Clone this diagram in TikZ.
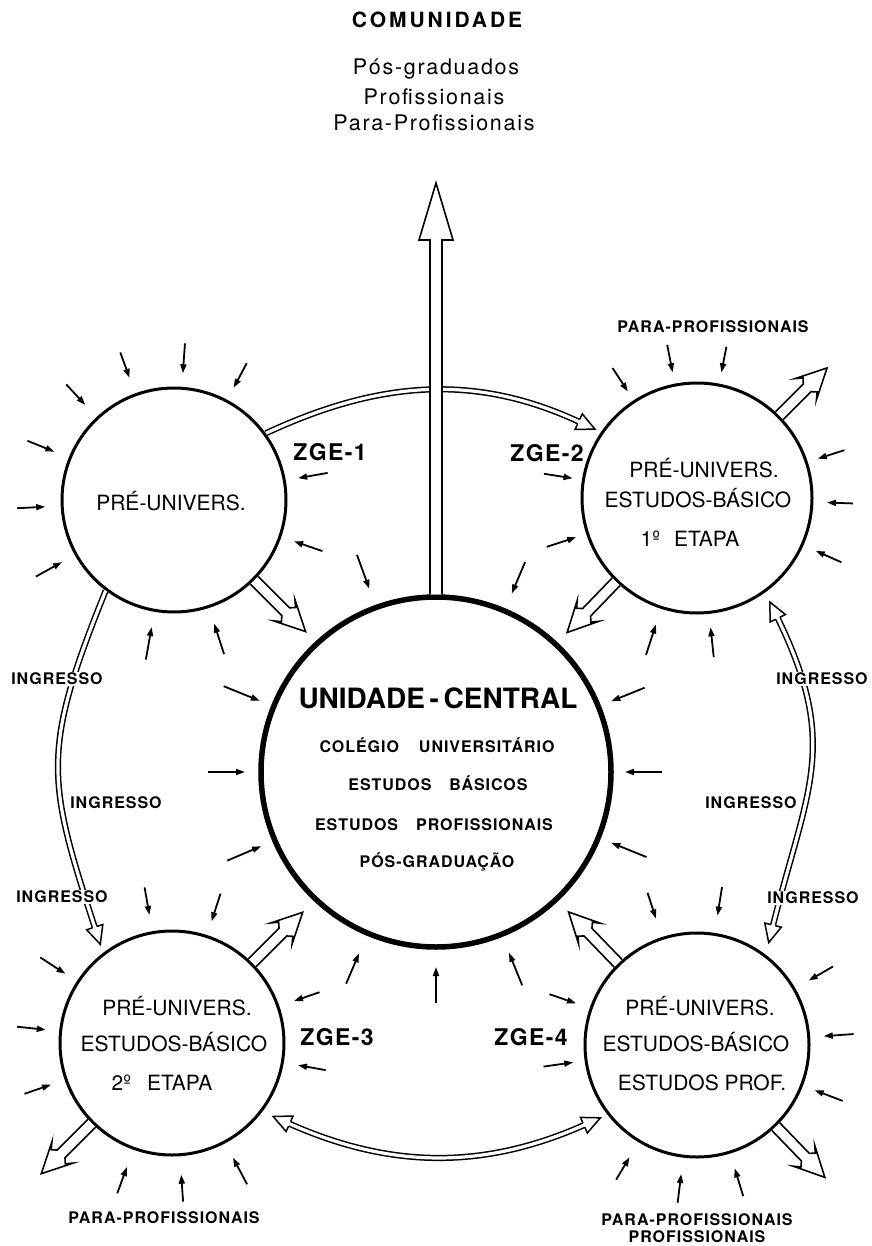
\documentclass[tikz,border=0pt]{standalone}
\usepackage{fontspec}
\setmainfont{TeX Gyre Heros}
\newfontfamily\wideletters[LetterSpace=14]{TeX Gyre Heros}
\newfontfamily\openletters[LetterSpace=8]{TeX Gyre Heros}
\newfontfamily\looseletters[LetterSpace=6]{TeX Gyre Heros}
\usetikzlibrary{calc,arrows.meta,decorations.markings}

% open head of a double-line connector, tip at the local origin
\newcommand\headshape[1]{\draw[line width=1.5pt, fill=white, line join=miter, #1]
  (-18pt,2.4pt) -- (-18pt,8.5pt) -- (0pt,0pt) -- (-18pt,-8.5pt) -- (-18pt,-2.4pt);}

% broad outlined arrow from #1 to #2
\newcommand\fatarrow[2]{%
  \draw[fat] let \p1=(#1), \p2=(#2), \n1={atan2(\y2-\y1,\x2-\x1)},
      \n2={veclen(\x2-\x1,\y2-\y1)} in
    {[shift={(\p1)}, rotate=\n1]
     (0pt,5.5pt) -- (\n2-28pt,5.5pt) -- (\n2-24pt,10pt) -- (\n2-30pt,15pt)
     -- (\n2,0pt) -- (\n2-30pt,-15pt) -- (\n2-24pt,-10pt) -- (\n2-28pt,-5.5pt)
     -- (0pt,-5.5pt)};}

\tikzset{
  ring/.style={circle, draw, line width=3pt, fill=white, inner sep=0pt, minimum size=224pt},
  hub/.style={circle, draw, line width=5.5pt, fill=white, inner sep=0pt, minimum size=350pt},
  sa/.style={line width=1.8pt, -{Triangle[length=9pt,width=6pt]}},
  dbl/.style={draw, double=white, double distance=3.2pt, line width=1.5pt},
  fat/.style={line width=1.6pt, fill=white, line join=miter},
  headend/.style={decoration={markings, mark=at position 0.9999 with {\headshape{}}}, decorate},
  headboth/.style={decoration={markings,
      mark=at position 0.0001 with {\headshape{xscale=-1}},
      mark=at position 0.9999 with {\headshape{}}}, decorate},
  ctxt/.style={inner sep=0pt, text height=15pt, text depth=0pt, font=\fontsize{21}{21}\selectfont},
  hubtxt/.style={inner sep=0pt, text height=11.5pt, text depth=0pt,
      font=\looseletters\bfseries\fontsize{16}{16}\selectfont},
  lbl/.style={inner sep=1pt, text height=11.5pt, text depth=0pt,
      font=\looseletters\bfseries\fontsize{16}{16}\selectfont},
  zge/.style={inner sep=0pt, text height=16.5pt, text depth=0pt,
      font=\looseletters\bfseries\fontsize{23}{23}\selectfont},
  toptxt/.style={inner sep=0pt, text height=15.5pt, text depth=0pt,
      font=\openletters\fontsize{21.5}{21.5}\selectfont},
}

\begin{document}
\begin{tikzpicture}[x=1pt,y=1pt]
\fill[white] (0,0) rectangle (871,-1246);
\useasboundingbox (0,0) rectangle (871,-1246);

% the five units
\node[hub] (ctr) at (436,-772) {};
\node[ring] (z1) at (174,-500) {};
\node[ring, minimum size=230pt] (z2) at (697,-498) {};
\node[ring] (z3) at (172,-1043) {};
\node[ring] (z4) at (697,-1045) {};

% end points of the double-line links
\coordinate (t2) at ($(z2)+(146:123)$);
\coordinate (t3) at ($(z3)+(126:122)$);
\coordinate (r2) at ($(z2)+(-55:127)$);
\coordinate (r4) at ($(z4)+(55:125)$);
\coordinate (b3) at ($(z3)+(-36:125)$);
\coordinate (b4) at ($(z4)+(217:121)$);

% double-line links between the zones
\draw[dbl, shorten >=17pt] (z1.36) to[out=25,in=155] (t2);
\path[headend] (z1.36) to[out=25,in=155] (t2);

\draw[dbl, shorten >=17pt] (z1.233) to[out=248,in=108,looseness=1.25] (t3);
\path[headend] (z1.233) to[out=248,in=108,looseness=1.25] (t3);

\draw[dbl, shorten >=17pt, shorten <=17pt] (r2) to[out=-64,in=76,looseness=1.2] (r4);
\path[headboth] (r2) to[out=-64,in=76,looseness=1.2] (r4);

\draw[dbl, shorten >=17pt, shorten <=17pt] (b3) to[out=-24,in=204] (b4);
\path[headboth] (b3) to[out=-24,in=204] (b4);

% main output towards the community
\coordinate (sky) at (436,-183);
\draw[fat] ($(ctr.north)+(-6,0)$) -- ($(sky)+(-6,-57)$) -- ($(sky)+(-17,-57)$) -- (sky)
  -- ($(sky)+(17,-57)$) -- ($(sky)+(6,-57)$) -- ($(ctr.north)+(6,0)$);

% broad arrows leaving the zones
\coordinate (f1) at ($(z1)+(-45:186)$);
\coordinate (f2) at ($(z2)+(-134:187)$);
\coordinate (f3) at ($(z2)+(45:184)$);
\coordinate (f4) at ($(z3)+(45:185)$);
\coordinate (f5) at ($(z3)+(225:185)$);
\coordinate (f6) at ($(z4)+(134:185)$);
\coordinate (f7) at ($(z4)+(-46:184)$);
\fatarrow{z1.-45}{f1}
\fatarrow{z2.-134}{f2}
\fatarrow{z2.45}{f3}
\fatarrow{z3.45}{f4}
\fatarrow{z3.225}{f5}
\fatarrow{z4.134}{f6}
\fatarrow{z4.-46}{f7}

% small incoming arrows: angle / tail distance / tip distance
\foreach \a/\r/\s in {110/157/130, 86/157/127, 62/155/127, 133/158/130, 158/158/129,
    183/157/129, 209/158/128, 10/156/126, -19/157/127, 260/162/129, -72/162/130}
  \draw[sa] ($(z1)+(\a:\r)$) -- ($(z1)+(\a:\s)$);
\foreach \a/\r/\s in {101/156/128, 79/154/128, 123/155/127, 18/155/127, -2/156/130,
    -24/158/130, 171/155/126, 198/158/127, 252/165/133, -84/160/130}
  \draw[sa] ($(z2)+(\a:\r)$) -- ($(z2)+(\a:\s)$);
\foreach \a/\r/\s in {100/158/130, 72/157/128, 147/157/127, 174/156/127, 199/156/128,
    19/156/129, -10/156/128, 250/160/132, -86/159/132, -62/160/130}
  \draw[sa] ($(z3)+(\a:\r)$) -- ($(z3)+(\a:\s)$);
\foreach \a/\r/\s in {108/160/133, 81/160/131, 30/157/129, 4/157/127, -21/156/126,
    161/156/128, 188/155/125, 239/157/131, 263/159/130, -73/158/129}
  \draw[sa] ($(z4)+(\a:\r)$) -- ($(z4)+(\a:\s)$);
\foreach \a/\r/\s in {110/231/195, 67/228/194, 158/229/190, 180/228/191, 203/227/190,
    22/225/189, 0/226/189, -22/227/189, 247/230/197, 270/231/195, -68/230/195}
  \draw[sa] ($(ctr)+(\a:\r)$) -- ($(ctr)+(\a:\s)$);

% community heading
\node[inner sep=0pt, text height=15pt, text depth=0pt,
      font=\wideletters\bfseries\fontsize{21}{21}\selectfont] (com) at (437,-20) {COMUNIDADE};
\node[toptxt] (com1) at (436,-67) {Pós-graduados};
\node[toptxt] (com2) at (434,-97) {Profissionais};
\node[toptxt] (com3) at (434,-123) {Para-Profissionais};

% central unit
\node[inner sep=0pt, text height=20pt, text depth=0pt,
      font=\bfseries\fontsize{28}{28}\selectfont] (h0) at (438,-698) {UNIDADE\,-\,CENTRAL};
\node[hubtxt] (h1) at (437,-747) {COLÉGIO\hspace{20pt}UNIVERSITÁRIO};
\node[hubtxt] (h2) at (438,-785) {ESTUDOS\hspace{18pt}BÁSICOS};
\node[hubtxt] (h3) at (434,-825) {ESTUDOS\hspace{18pt}PROFISSIONAIS};
\node[hubtxt] (h4) at (437,-862) {PÓS-GRADUAÇÃO};

% zone contents
\node[ctxt] (a1) at (171,-503) {PRÉ-UNIVERS.};
\node[ctxt] (b1) at (704,-470) {PRÉ-UNIVERS.};
\node[ctxt] (b2) at (698,-500) {ESTUDOS-BÁSICO};
\node[ctxt] (b3t) at (690,-539) {1º\hspace{14pt}ETAPA};
\node[ctxt] (c1) at (177,-1008) {PRÉ-UNIVERS.};
\node[ctxt] (c2) at (174,-1044) {ESTUDOS-BÁSICO};
\node[ctxt] (c3) at (162,-1083) {2º\hspace{16pt}ETAPA};
\node[ctxt] (d1) at (700,-1008) {PRÉ-UNIVERS.};
\node[ctxt] (d2) at (696,-1044) {ESTUDOS-BÁSICO};
\node[ctxt] (d3) at (702,-1083) {ESTUDOS PROF.};

% zone names
\node[zge] (g1) at (330,-452) {ZGE-1};
\node[zge] (g2) at (547,-453) {ZGE-2};
\node[zge] (g3) at (337,-1037) {ZGE-3};
\node[zge] (g4) at (531,-1037) {ZGE-4};

% link labels
\node[lbl, fill=white] (i1) at (57,-679) {INGRESSO};
\node[lbl] (i2) at (116,-803) {INGRESSO};
\node[lbl, fill=white] (i3) at (62,-897) {INGRESSO};
\node[lbl, fill=white] (i4) at (822,-679) {INGRESSO};
\node[lbl] (i5) at (751,-803) {INGRESSO};
\node[lbl, fill=white] (i6) at (813,-898) {INGRESSO};

% outside groups
\node[lbl] (p1) at (713,-327) {PARA-PROFISSIONAIS};
\node[lbl] (p2) at (164,-1218) {PARA-PROFISSIONAIS};
\node[lbl] (p3) at (697,-1220) {PARA-PROFISSIONAIS};
\node[lbl] (p4) at (697,-1237) {PROFISSIONAIS};
\end{tikzpicture}
\end{document}
